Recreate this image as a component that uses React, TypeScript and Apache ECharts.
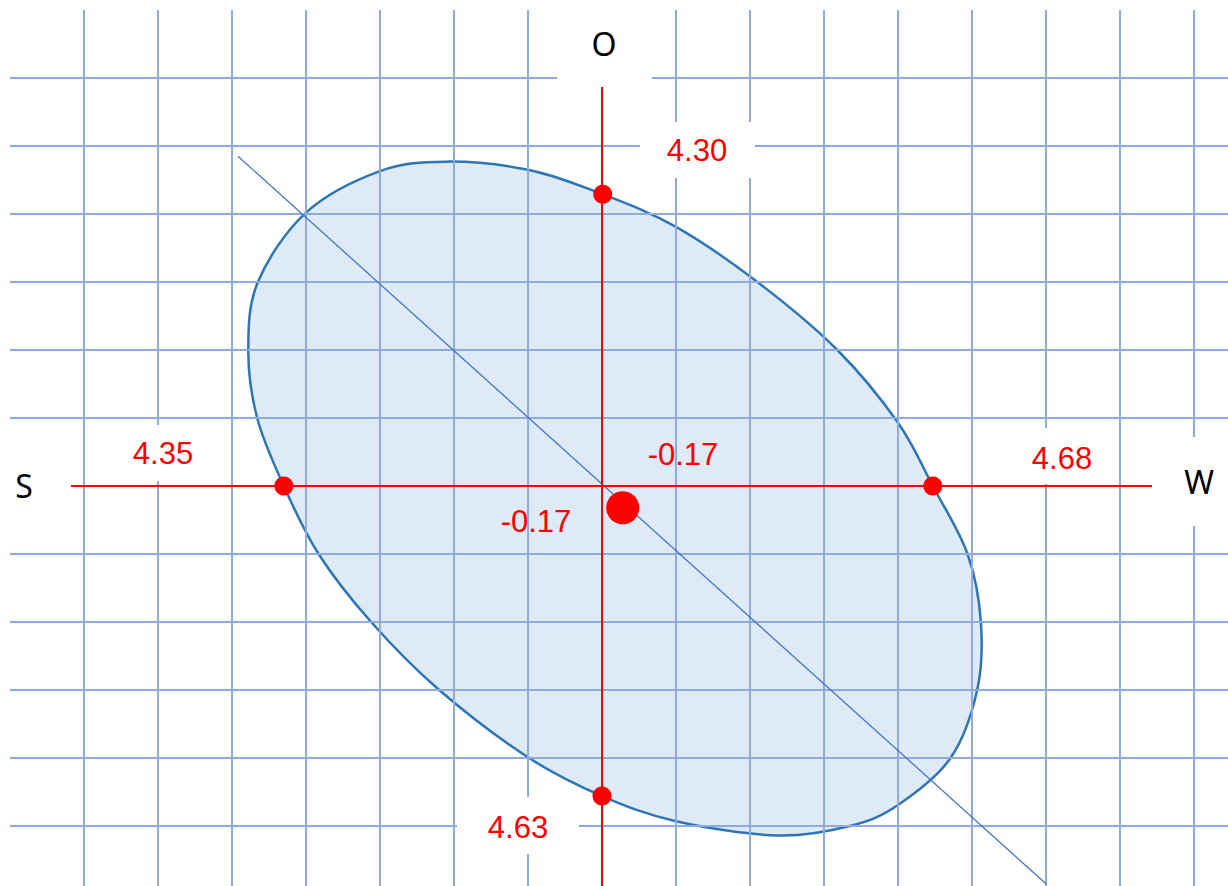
import React, { useEffect, useRef } from 'react';
import * as echarts from 'echarts';

// ---- data (in grid units, origin at the crossing of the red axes) ----
const directionLabels = ['O', 'S', 'W'];
const radiusLabels = ['4.30', '4.35', '4.68', '4.63'];
const offsetLabels = ['-0.17', '-0.17'];

const interceptPoints = [
  [0.01, 4.29],
  [-4.3, 0],
  [4.47, 0],
  [0, -4.56],
];
const centrePoint = [[0.28, -0.32]];
const majorAxisLine = [
  [-4.92, 4.85],
  [6.0, -5.85],
];
const horizontalAxisLine = [
  [-7.18, 0],
  [7.43, 0],
];
const verticalAxisLine = [
  [0, -6],
  [0, 5.87],
];
const ellipseOutline = [
  [-2.1, 4.77],
  [-1.0, 4.65],
  [0.01, 4.29],
  [1.0, 3.81],
  [2.1, 3.0],
  [3.18, 2.0],
  [4.0, 0.93],
  [4.47, 0],
  [4.94, -1.0],
  [5.12, -2.0],
  [5.07, -3.0],
  [4.71, -4.0],
  [4.0, -4.69],
  [3.35, -5.0],
  [2.37, -5.14],
  [1.0, -4.93],
  [0, -4.56],
  [-1.0, -3.99],
  [-2.2, -3.0],
  [-3.12, -2.0],
  [-3.83, -1.0],
  [-4.3, 0],
  [-4.66, 1.0],
  [-4.78, 2.0],
  [-4.65, 3.0],
  [-4.0, 4.02],
  [-3.0, 4.63],
];

const RED = '#FF0000';
const numFont = '31px "Liberation Sans", Arial, sans-serif';
const dirFont = '32px "Noto Sans", "Open Sans", sans-serif';

function textEl(text: string, x: number, y: number, font: string, fill: string) {
  return {
    type: 'text',
    x,
    y,
    z: 101,
    silent: true,
    style: {
      text,
      font,
      fill,
      align: 'center',
      verticalAlign: 'middle',
      textAlign: 'center',
      textVerticalAlign: 'middle',
    },
  };
}

function boxEl(x: number, y: number, width: number, height: number) {
  return {
    type: 'rect',
    z: 100,
    silent: true,
    shape: { x, y, width, height },
    style: { fill: '#FFFFFF' },
  };
}

// closed Catmull-Rom curve through the mapped outline points
function closedCurvePath(pts: number[][]): string {
  const n = pts.length;
  const f = (v: number) => v.toFixed(2);
  let d = `M${f(pts[0][0])} ${f(pts[0][1])}`;
  for (let i = 0; i < n; i++) {
    const p0 = pts[(i - 1 + n) % n];
    const p1 = pts[i];
    const p2 = pts[(i + 1) % n];
    const p3 = pts[(i + 2) % n];
    const c1x = p1[0] + (p2[0] - p0[0]) / 6;
    const c1y = p1[1] + (p2[1] - p0[1]) / 6;
    const c2x = p2[0] - (p3[0] - p1[0]) / 6;
    const c2y = p2[1] - (p3[1] - p1[1]) / 6;
    d += ` C${f(c1x)} ${f(c1y)} ${f(c2x)} ${f(c2y)} ${f(p2[0])} ${f(p2[1])}`;
  }
  return d + ' Z';
}

function buildOption() {
  const axisCommon = {
    type: 'value',
    interval: 1,
    z: 3,
    axisLine: { show: false },
    axisTick: { show: false },
    axisLabel: { show: false },
  };
  return {
    animation: false,
    grid: { left: 10, top: 10, width: 1258, height: 884, containLabel: false },
    xAxis: {
      ...axisCommon,
      min: -8,
      max: 9,
      splitLine: {
        show: true,
        showMinLine: false,
        lineStyle: { color: '#8FAADC', width: 2 },
      },
    },
    yAxis: {
      ...axisCommon,
      min: -6,
      max: 7,
      splitLine: {
        show: true,
        showMaxLine: false,
        lineStyle: { color: '#8FAADC', width: 2 },
      },
    },
    series: [
      {
        type: 'custom',
        coordinateSystem: 'cartesian2d',
        silent: true,
        z: 2,
        clip: false,
        data: ellipseOutline,
        renderItem: (params: any, api: any) => {
          if (params.dataIndex !== 0) return null;
          const pts = ellipseOutline.map((p) => api.coord(p));
          return {
            type: 'path',
            shape: { pathData: closedCurvePath(pts) },
            style: { fill: '#DEEBF7', stroke: '#2E75B6', lineWidth: 2.5 },
          };
        },
      },
      {
        type: 'line',
        data: majorAxisLine,
        symbol: 'none',
        silent: true,
        z: 4,
        lineStyle: { color: '#4472C4', width: 1.25 },
      },
      {
        type: 'line',
        data: horizontalAxisLine,
        symbol: 'none',
        silent: true,
        z: 5,
        lineStyle: { color: RED, width: 2 },
      },
      {
        type: 'line',
        data: verticalAxisLine,
        symbol: 'none',
        silent: true,
        z: 5,
        lineStyle: { color: RED, width: 2 },
      },
      {
        type: 'scatter',
        data: interceptPoints,
        symbol: 'circle',
        symbolSize: 19,
        silent: true,
        z: 6,
        itemStyle: { color: RED, opacity: 1 },
      },
      {
        type: 'scatter',
        data: centrePoint,
        symbol: 'circle',
        symbolSize: 33,
        silent: true,
        z: 6,
        itemStyle: { color: RED, opacity: 1 },
      },
    ],
    graphic: {
      elements: [
        boxEl(557, 0, 95, 87),
        boxEl(640, 122, 115, 56),
        boxEl(0, 445, 71, 80),
        boxEl(104, 425, 118, 56),
        boxEl(1004, 428, 115, 56),
        boxEl(1152, 437, 80, 89),
        boxEl(457, 797, 122, 57),
        textEl(directionLabels[0], 604, 43, dirFont, '#000000'),
        textEl(directionLabels[1], 24, 485, dirFont, '#000000'),
        textEl(directionLabels[2], 1199, 481, dirFont, '#000000'),
        textEl(radiusLabels[0], 697, 150, numFont, RED),
        textEl(radiusLabels[1], 163, 453, numFont, RED),
        textEl(radiusLabels[2], 1062, 458, numFont, RED),
        textEl(radiusLabels[3], 518, 827, numFont, RED),
        textEl(offsetLabels[0], 683, 454, numFont, RED),
        textEl(offsetLabels[1], 536, 521, numFont, RED),
      ],
    },
  };
}

export default function App() {
  const ref = useRef<HTMLDivElement>(null);
  useEffect(() => {
    if (!ref.current) return;
    const chart = echarts.init(ref.current, undefined, { renderer: 'svg' });
    chart.setOption(buildOption() as any);
    return () => chart.dispose();
  }, []);
  return (
    <div
      ref={ref}
      style={{ position: 'fixed', left: 0, top: 0, width: 1280, height: 900, background: '#FFFFFF' }}
    />
  );
}
